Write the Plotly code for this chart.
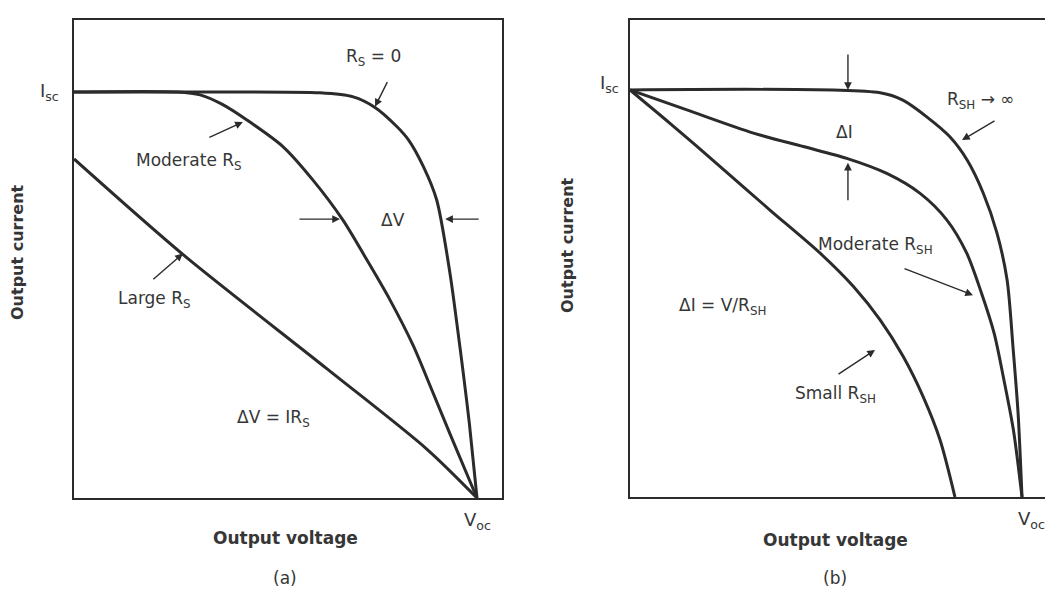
import plotly.graph_objects as go

# ---- I-V characteristics (normalised: V / Voc, I / Isc) ----
# (a) effect of series resistance
v_rs_zero = [0.0, 0.30, 0.610, 0.693, 0.747, 0.801, 0.830, 0.867, 0.900, 0.933, 0.950, 0.966, 0.981, 1.0]
i_rs_zero = [1.0, 1.0, 0.998, 0.988, 0.962, 0.915, 0.882, 0.816, 0.734, 0.553, 0.430, 0.307, 0.184, 0.0]

v_rs_moderate = [0.0, 0.256, 0.313, 0.367, 0.429, 0.519, 0.593, 0.667, 0.727, 0.784, 0.841, 0.888, 0.935, 1.0]
i_rs_moderate = [1.0, 1.0, 0.993, 0.970, 0.931, 0.865, 0.783, 0.685, 0.586, 0.488, 0.377, 0.266, 0.153, 0.0]

v_rs_large = [0.0, 0.270, 0.628, 0.876, 1.0]
i_rs_large = [0.835, 0.600, 0.318, 0.120, 0.0]

# (b) effect of shunt resistance
v_rsh_inf = [0.0, 0.638, 0.696, 0.757, 0.816, 0.860, 0.901, 0.936, 0.962, 0.977, 0.990, 1.0]
i_rsh_inf = [1.0, 0.993, 0.975, 0.934, 0.885, 0.828, 0.747, 0.649, 0.533, 0.369, 0.206, 0.0]

v_rsh_moderate = [0.0, 0.145, 0.315, 0.442, 0.553, 0.655, 0.740, 0.808, 0.859, 0.897, 0.929, 0.954, 0.978, 1.0]
i_rsh_moderate = [1.0, 0.951, 0.894, 0.861, 0.832, 0.795, 0.746, 0.681, 0.599, 0.500, 0.402, 0.287, 0.165, 0.0]

v_rsh_small = [0.0, 0.102, 0.230, 0.357, 0.485, 0.570, 0.638, 0.697, 0.748, 0.791, 0.829]
i_rsh_small = [1.0, 0.918, 0.812, 0.705, 0.599, 0.517, 0.435, 0.345, 0.246, 0.140, 0.0]

tick_isc = "I<sub>sc</sub>"
tick_voc = "V<sub>oc</sub>"
x_title = "<b>Output voltage</b>"
y_title = "<b>Output current</b>"
panel_tags = ["(a)", "(b)"]

INK = "#2b2b2b"
TEXT = "#363636"
FONT = "DejaVu Sans"
W, H = 1045, 591

fig = go.Figure()


def curve(v, i, xa, ya):
    fig.add_trace(go.Scatter(
        x=v, y=i, xaxis=xa, yaxis=ya, mode="lines",
        line=dict(color=INK, width=3, shape="spline", smoothing=0.8),
        hoverinfo="skip", showlegend=False))


curve(v_rs_zero, i_rs_zero, "x", "y")
curve(v_rs_moderate, i_rs_moderate, "x", "y")
curve(v_rs_large, i_rs_large, "x", "y")
curve(v_rsh_inf, i_rsh_inf, "x2", "y2")
curve(v_rsh_moderate, i_rsh_moderate, "x2", "y2")
curve(v_rsh_small, i_rsh_small, "x2", "y2")

# panel frames in pixels -> domains
left_px = (74, 502, 20, 498)     # x0, x1, top, bottom
right_px = (630, 1045, 20, 497)
left_scale = (403, 406)          # px per unit V, px per unit I
right_scale = (392, 407)


def axes(px, scale, mirror_x, mirror_y):
    x0, x1, top, bot = px
    sx, sy = scale
    common = dict(showgrid=False, zeroline=False, showticklabels=False, ticks="",
                  showline=True, linecolor=INK, linewidth=2, fixedrange=True)
    xa = dict(domain=[x0 / W, x1 / W], range=[0, (x1 - x0) / sx], mirror=mirror_x, **common)
    ya = dict(domain=[1 - bot / H, 1 - top / H], range=[0, (bot - top) / sy], mirror=mirror_y, **common)
    return xa, ya


xa1, ya1 = axes(left_px, left_scale, True, True)
xa2, ya2 = axes(right_px, right_scale, True, False)
xa1["anchor"], ya1["anchor"] = "y", "x"
xa2["anchor"], ya2["anchor"] = "y2", "x2"

ann = []


def label(text, x, y, xr, yr, size=17, **kw):
    d = dict(text=text, x=x, y=y, xref=xr, yref=yr, showarrow=False,
             xanchor="center", yanchor="middle",
             font=dict(family=FONT, size=size, color=TEXT))
    d.update(kw)
    ann.append(d)


def pointer(x, y, xr, yr, ax, ay):
    ann.append(dict(text="", x=x, y=y, xref=xr, yref=yr, showarrow=True,
                    ax=ax, ay=ay, arrowhead=2, arrowsize=1.1, arrowwidth=1.4,
                    arrowcolor=INK, standoff=0, startstandoff=0,
                    font=dict(family=FONT, size=12, color=TEXT)))


# tick-style labels at Isc and Voc
label(tick_isc, 0, 1.0, "x", "y", size=18, xanchor="right", xshift=-13)
label(tick_voc, 1.0, 0, "x", "y", size=18, yshift=-23)
label(tick_isc, 0, 1.0, "x2", "y2", size=18, xanchor="right", xshift=-9, yshift=6)
label(tick_voc, 1.0, 0, "x2", "y2", size=18, xshift=9, yshift=-23)

# axis titles and panel tags
label(x_title, 285 / W, 1 - 538 / H, "paper", "paper")
label(x_title, 835 / W, 1 - 540 / H, "paper", "paper")
label(y_title, 18 / W, 1 - 252 / H, "paper", "paper", size=16, textangle=-90)
label(y_title, 568 / W, 1 - 245 / H, "paper", "paper", size=16, textangle=-90)
label(panel_tags[0], 285 / W, 1 - 578 / H, "paper", "paper")
label(panel_tags[1], 835 / W, 1 - 578 / H, "paper", "paper")

# (a) curve labels
label("R<sub>S</sub> = 0", 0.744, 1.084, "x", "y")
pointer(0.747, 0.964, "x", "y", 13, -26)
label("Moderate R<sub>S</sub>", 0.285, 0.830, "x", "y")
pointer(0.419, 0.926, "x", "y", -35, 16)
label("Large R<sub>S</sub>", 0.199, 0.490, "x", "y")
pointer(0.270, 0.602, "x", "y", -31, 27)
pointer(0.660, 0.687, "x", "y", -42, 0)
pointer(0.921, 0.687, "x", "y", 35, 0)
label("ΔV", 0.792, 0.685, "x", "y")
label("ΔV = IR<sub>S</sub>", 0.494, 0.197, "x", "y")

# (b) curve labels
pointer(0.556, 1.0, "x2", "y2", 0, -37)
pointer(0.556, 0.821, "x2", "y2", 0, 39)
label("ΔI", 0.548, 0.897, "x2", "y2")
label("R<sub>SH</sub> → ∞", 0.895, 0.975, "x2", "y2")
pointer(0.847, 0.877, "x2", "y2", 34, -20)
label("Moderate R<sub>SH</sub>", 0.625, 0.619, "x2", "y2")
pointer(0.875, 0.496, "x2", "y2", -70, -27)
label("ΔI = V/R<sub>SH</sub>", 0.237, 0.467, "x2", "y2")
label("Small R<sub>SH</sub>", 0.523, 0.251, "x2", "y2")
pointer(0.625, 0.361, "x2", "y2", -38, 25)

fig.update_layout(
    width=W, height=H,
    margin=dict(l=0, r=0, t=0, b=0),
    paper_bgcolor="white", plot_bgcolor="white",
    xaxis=xa1, yaxis=ya1, xaxis2=xa2, yaxis2=ya2,
    annotations=ann,
    showlegend=False,
)

fig.write_html("out.html", config=dict(displayModeBar=False))
